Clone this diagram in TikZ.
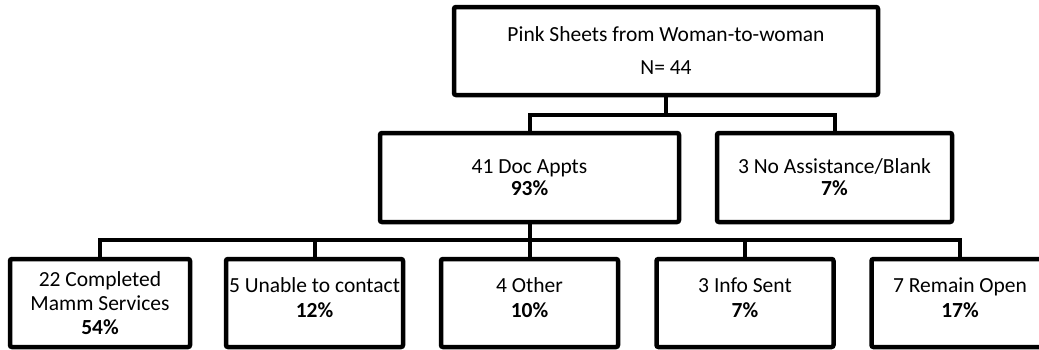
\documentclass[tikz,border=0pt]{standalone}
\usepackage{fontspec}
\setmainfont{Carlito}
\usetikzlibrary{calc}
\tikzset{
  box/.style={
    draw,
    line width=4.5pt,
    rounded corners=2pt,
    align=center,
    inner sep=0pt,
    minimum height=88pt,
    font=\fontsize{21.5}{25}\selectfont
  },
  link/.style={
    line width=4pt,
    line cap=rect
  }
}
\begin{document}
\begin{tikzpicture}[x=1pt,y=-1pt]
  \useasboundingbox (0,0) rectangle (1039,349);
  % top level
  \node[box,minimum width=424pt] (top) at (666,51) {Pink Sheets from Woman-to-woman\\[8pt]N= 44};
  % second level
  \node[box,minimum width=299pt,minimum height=89pt] (doc) at (529.5,177.5) {41 Doc Appts\\[-3pt]\textbf{93\%}};
  \node[box,minimum width=235pt,minimum height=89pt] (noassist) at (834.5,177.5) {3 No Assistance/Blank\\[-3pt]\textbf{7\%}};
  \coordinate (bar1) at (666,115);
  \draw[link] (top.south) -- (bar1);
  \draw[link] (doc.north) |- (bar1) -| (noassist.north);
  % third level
  \node[box,minimum width=180pt] (b1) at (100,303) {22 Completed\\[-1pt]Mamm Services\\[-1pt]\textbf{54\%}};
  \foreach \n/\x/\t/\p in {b2/314.5/5 Unable to contact/12,b3/529.5/4 Other/10,b4/745/3 Info Sent/7,b5/960/7 Remain Open/17}{
    \node[box,minimum width=177pt,text depth=11pt] (\n) at (\x,303) {\t\\[0pt]\textbf{\p\%}};
  }
  \coordinate (bar2) at (529.5,240);
  \draw[link] (doc.south) -- (b3.north);
  \foreach \n in {b1,b2,b4,b5}{
    \draw[link] (\n.north) |- (bar2);
  }
\end{tikzpicture}
\end{document}
